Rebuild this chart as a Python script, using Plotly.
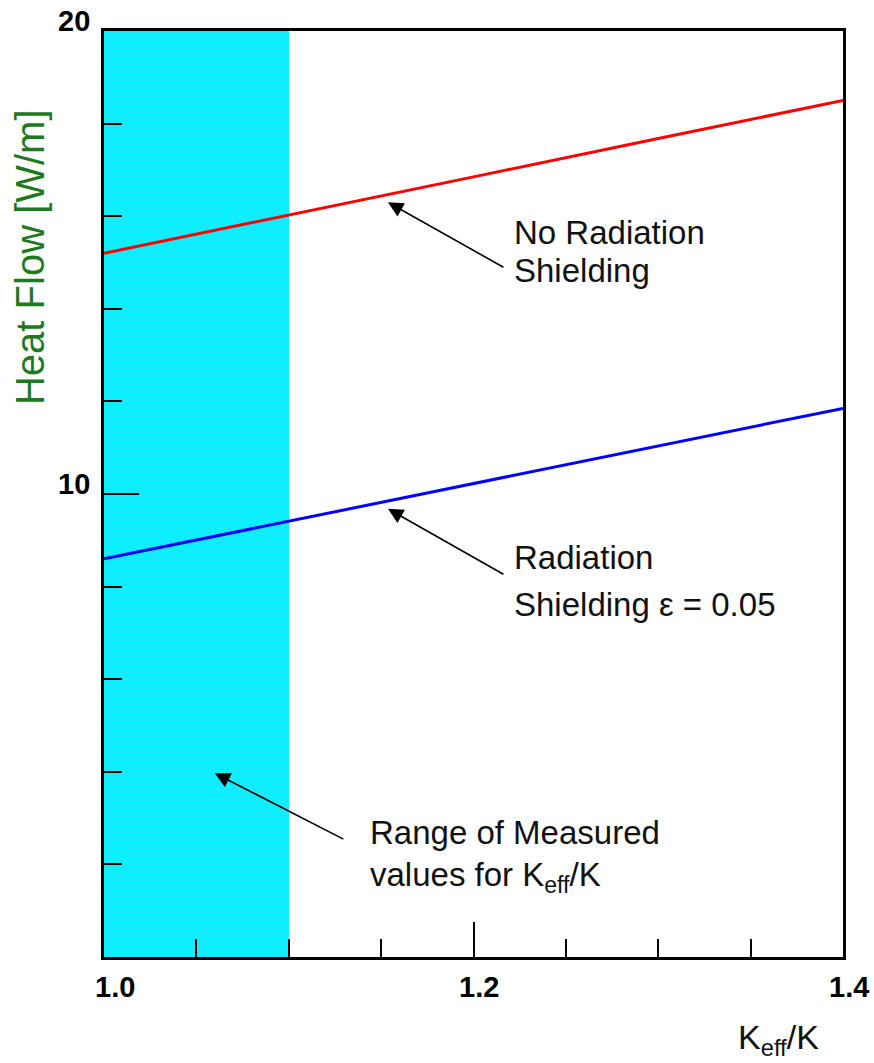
import plotly.graph_objects as go

# Heat flow versus effective conductivity ratio
k_ratio = [1.0, 1.1, 1.2, 1.3, 1.4]
no_shield = [15.2, 16.02, 16.85, 17.68, 18.5]
shield_005 = [8.6, 9.41, 10.22, 11.04, 11.85]

# Measured range of Keff/K (shaded band)
measured_lo, measured_hi = 1.0, 1.1

x_ticks = [1.0, 1.2, 1.4]
x_tick_text = ["1.0", "1.2", "1.4"]
y_ticks = [10, 20]
y_tick_text = ["10", "20"]
x_minor = [1.05, 1.1, 1.15, 1.25, 1.3, 1.35]
y_minor = [2, 4, 6, 8, 12, 14, 16, 18]

X0, X1 = 1.0, 1.4
Y0, Y1 = 0, 20
FONT = "Liberation Sans, Arial, Helvetica, sans-serif"

fig = go.Figure()

# shaded band of measured values
fig.add_trace(go.Bar(
    x=[(measured_lo + measured_hi) / 2], y=[Y1 - Y0], base=[Y0],
    width=[measured_hi - measured_lo],
    marker=dict(color="#00f4ff", line=dict(width=0),
                pattern=dict(shape=".", fgcolor="#55c8ff", bgcolor="#00f4ff",
                             size=4, solidity=0.25)),
    hoverinfo="skip", showlegend=False,
))

fig.add_trace(go.Scatter(x=k_ratio, y=no_shield, mode="lines",
                         line=dict(color="#ff0000", width=3), showlegend=False))
fig.add_trace(go.Scatter(x=k_ratio, y=shield_005, mode="lines",
                         line=dict(color="#0000ff", width=3), showlegend=False))

annotations = []

# arrows pointing at the curves and the band
arrows = [
    (1.1537, 16.3, 1.217, 14.88),
    (1.1537, 9.68, 1.217, 8.25),
    (1.060, 3.97, 1.1304, 2.53),
]
for tx, ty, sx, sy in arrows:
    annotations.append(dict(x=tx, y=ty, ax=sx, ay=sy, xref="x", yref="y",
                            axref="x", ayref="y", text="", showarrow=True,
                            arrowhead=2, arrowsize=1.9, arrowwidth=1.6,
                            arrowcolor="black"))

labels = [
    (1.2219, 15.65, "No Radiation"),
    (1.2219, 14.83, "Shielding"),
    (1.2219, 8.62, "Radiation"),
    (1.2219, 7.62, "Shielding ε = 0.05"),
    (1.1439, 2.68, "Range of Measured"),
    (1.1439, 1.73, "values for K<sub>eff</sub>/K"),
]
for lx, ly, txt in labels:
    annotations.append(dict(x=lx, y=ly, xref="x", yref="y", text=txt,
                            showarrow=False, xanchor="left", yanchor="middle",
                            align="left", xshift=-2,
                            font=dict(family=FONT, size=33, color="#111111")))

# tick labels
for v, t in zip(x_ticks, x_tick_text):
    annotations.append(dict(x=v, y=0, xref="x", yref="paper", text="<b>" + t + "</b>",
                            showarrow=False, xanchor="center", yanchor="top",
                            xshift=11 if v == 1.0 else (5 if v < 1.4 else 6), yshift=-12,
                            font=dict(family=FONT, size=29, color="black")))
for v, t in zip(y_ticks, y_tick_text):
    annotations.append(dict(x=0, y=v, xref="paper", yref="y", text="<b>" + t + "</b>",
                            showarrow=False, xanchor="right", yanchor="middle",
                            xshift=-12, yshift=10,
                            font=dict(family=FONT, size=29, color="black")))

# axis titles
annotations.append(dict(x=-0.1, y=0.756, xref="paper", yref="paper",
                        text="Heat Flow [W/m]", textangle=-90, showarrow=False,
                        xanchor="center", yanchor="middle",
                        font=dict(family=FONT, size=40, color="#1f7a1f")))
annotations.append(dict(x=0.913, y=-0.089, xref="paper", yref="paper",
                        text="K<sub>eff</sub>/K", showarrow=False,
                        xanchor="center", yanchor="middle",
                        font=dict(family=FONT, size=34, color="#111111")))

fig.update_layout(
    width=874, height=1063,
    margin=dict(l=104, r=31, t=31, b=106),
    paper_bgcolor="white", plot_bgcolor="white",
    bargap=0,
    annotations=annotations,
    xaxis=dict(range=[X0, X1], showgrid=False, zeroline=False,
               showline=True, linecolor="black", linewidth=3, mirror=True,
               ticks="inside", tickvals=x_ticks, ticklen=35, tickwidth=2,
               tickcolor="black", showticklabels=False,
               minor=dict(tickvals=x_minor, ticks="inside", ticklen=18,
                          tickwidth=2, tickcolor="black", showgrid=False)),
    yaxis=dict(range=[Y0, Y1], showgrid=False, zeroline=False,
               showline=True, linecolor="black", linewidth=3, mirror=True,
               ticks="inside", tickvals=y_ticks, ticklen=35, tickwidth=2,
               tickcolor="black", showticklabels=False,
               minor=dict(tickvals=y_minor, ticks="inside", ticklen=18,
                          tickwidth=2, tickcolor="black", showgrid=False)),
)

fig.write_html("out.html")
